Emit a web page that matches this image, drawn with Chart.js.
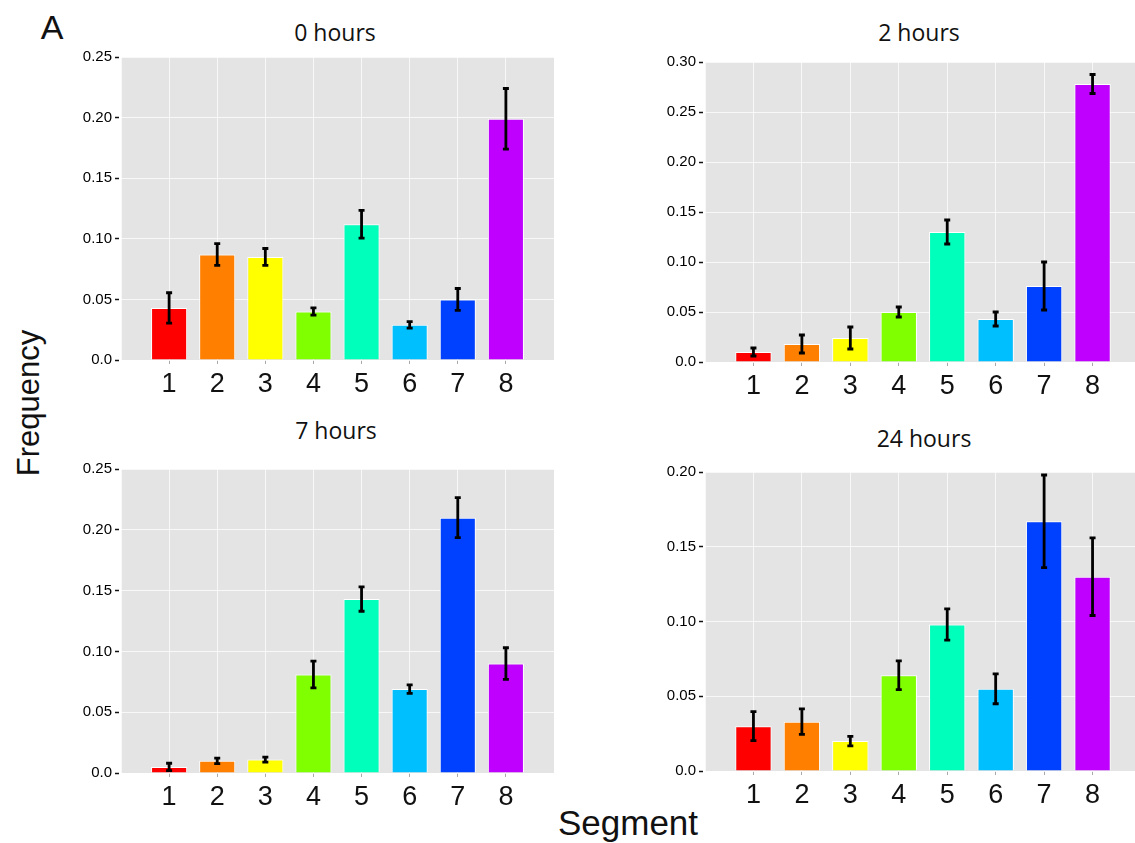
<!DOCTYPE html>
<html>
<head>
<meta charset="utf-8">
<script src="https://cdn.jsdelivr.net/npm/chart.js@4.4.0/dist/chart.umd.min.js"></script>
<style>
  html, body { margin: 0; padding: 0; background: #fff; overflow: hidden; }
  body { width: 1135px; height: 843px; position: relative; font-family: Arial, "Liberation Sans", sans-serif; }
  canvas { position: absolute; }
  .lbl { position: absolute; transform: translate(-50%, -50%); white-space: nowrap; line-height: 1; color: #111; }
  .title { font-family: "Open Sans", sans-serif; font-size: 23px; }
</style>
</head>
<body>
<div class="lbl" style="left:52px;top:27px;font-size:34px;">A</div>
<div class="lbl title" style="left:335px;top:32px;">0 hours</div>
<div class="lbl title" style="left:919px;top:32px;">2 hours</div>
<div class="lbl title" style="left:336px;top:430px;">7 hours</div>
<div class="lbl title" style="left:924px;top:438px;">24 hours</div>
<div class="lbl" style="left:28px;top:403px;font-size:31px;transform:translate(-50%,-50%) rotate(-90deg);">Frequency</div>
<div class="lbl" style="left:628px;top:822px;font-size:35px;">Segment</div>

<canvas id="c0" width="502" height="355" style="left:56px;top:45px"></canvas>
<canvas id="c2" width="505" height="352" style="left:640px;top:50px"></canvas>
<canvas id="c7" width="502" height="356" style="left:56px;top:457px"></canvas>
<canvas id="c24" width="505" height="351" style="left:640px;top:460px"></canvas>

<script>
const segments = [1, 2, 3, 4, 5, 6, 7, 8];
const barColors = ['#ff0000', '#ff8000', '#ffff00', '#80ff00', '#00ffbb', '#00bfff', '#0040ff', '#bf00ff'];

const hours0 = [0.043, 0.087, 0.085, 0.040, 0.112, 0.029, 0.050, 0.199];
const err0   = [0.0125, 0.009, 0.007, 0.003, 0.0115, 0.0027, 0.009, 0.025];

const hours2 = [0.010, 0.018, 0.024, 0.050, 0.130, 0.043, 0.076, 0.278];
const err2   = [0.004, 0.009, 0.011, 0.005, 0.012, 0.007, 0.024, 0.0095];

const hours7 = [0.005, 0.010, 0.011, 0.081, 0.143, 0.069, 0.210, 0.090];
const err7   = [0.003, 0.0023, 0.002, 0.011, 0.010, 0.0035, 0.0165, 0.013];

const hours24 = [0.030, 0.033, 0.020, 0.064, 0.098, 0.055, 0.167, 0.130];
const err24   = [0.0097, 0.0085, 0.0032, 0.0096, 0.0105, 0.010, 0.031, 0.026];

// grey panel behind the bars
const plotBg = {
    id: 'plotBg',
    beforeDraw(chart) {
        const { ctx, chartArea: a } = chart;
        ctx.save();
        ctx.fillStyle = '#e4e4e4';
        ctx.fillRect(a.left, a.top, a.right - a.left, a.bottom - a.top);
        ctx.restore();
    }
};

// black error bars with small caps
const errorBars = {
    id: 'errorBars',
    afterDatasetsDraw(chart, args, opts) {
        const { ctx, scales: { x, y } } = chart;
        const vals = chart.data.datasets[0].data;
        ctx.save();
        ctx.strokeStyle = '#000';
        ctx.lineWidth = 2.8;
        vals.forEach((p, i) => {
            const e = opts.errors[i];
            const px = x.getPixelForValue(p.x);
            const top = y.getPixelForValue(p.y + e);
            const bot = y.getPixelForValue(p.y - e);
            ctx.beginPath();
            ctx.moveTo(px, top); ctx.lineTo(px, bot);
            ctx.moveTo(px - 3, top); ctx.lineTo(px + 3, top);
            ctx.moveTo(px - 3, bot); ctx.lineTo(px + 3, bot);
            ctx.stroke();
        });
        ctx.restore();
    }
};

function makeChart(id, values, errors, yMax) {
    return new Chart(document.getElementById(id), {
        type: 'bar',
        data: {
            datasets: [{
                data: segments.map((s, i) => ({ x: s, y: values[i] })),
                backgroundColor: barColors,
                borderColor: '#ffffff',
                borderWidth: 1,
                barPercentage: 0.75,
                categoryPercentage: 1
            }]
        },
        options: {
            responsive: false,
            animation: false,
            layout: { padding: { top: 10, right: 2, left: 0, bottom: 0 } },
            plugins: {
                legend: { display: false },
                tooltip: { enabled: false },
                errorBars: { errors: errors }
            },
            scales: {
                x: {
                    type: 'linear',
                    min: 0,
                    max: 9,
                    offset: false,
                    afterFit: s => { s.height = 40; },
                    border: { display: false },
                    grid: {
                        offset: false,
                        color: 'rgba(255,255,255,0.75)',
                        lineWidth: 1,
                        tickLength: 4,
                        tickColor: c => (c.tick && segments.includes(c.tick.value)) ? '#aaaaaa' : 'rgba(0,0,0,0)'
                    },
                    ticks: {
                        stepSize: 1,
                        autoSkip: false,
                        maxRotation: 0,
                        padding: 4,
                        color: '#111',
                        font: { family: 'Arial', size: 27 },
                        callback: v => segments.includes(v) ? String(v) : ''
                    }
                },
                y: {
                    min: 0,
                    max: yMax,
                    afterFit: s => { s.width = 65; },
                    border: { display: false },
                    grid: {
                        color: 'rgba(255,255,255,0.75)',
                        lineWidth: 1,
                        tickLength: 6,
                        tickColor: '#111',
                        tickWidth: 1.5,
                        tickBorderDash: [4, 2]
                    },
                    ticks: {
                        stepSize: 0.05,
                        padding: 3,
                        color: '#000',
                        font: { family: 'Arial', size: 15 },
                        callback: v => v === 0 ? '0.0' : v.toFixed(2)
                    }
                }
            }
        },
        plugins: [plotBg, errorBars]
    });
}

makeChart('c0', hours0, err0, 0.25);
makeChart('c2', hours2, err2, 0.30);
makeChart('c7', hours7, err7, 0.25);
makeChart('c24', hours24, err24, 0.20);
</script>
</body>
</html>
